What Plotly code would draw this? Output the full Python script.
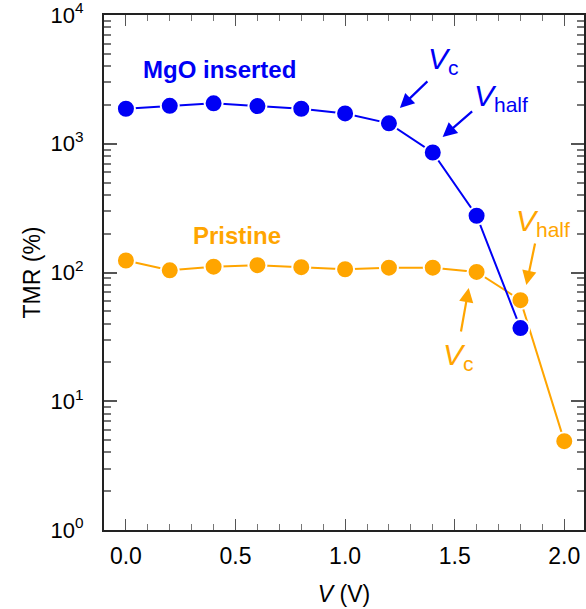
import plotly.graph_objects as go

voltage = [0.0, 0.2, 0.4, 0.6, 0.8, 1.0, 1.2, 1.4, 1.6, 1.8, 2.0]
mgo_V = [0.0, 0.2, 0.4, 0.6, 0.8, 1.0, 1.2, 1.4, 1.6, 1.8]
mgo_tmr = [1870, 1970, 2060, 1960, 1870, 1720, 1440, 855, 276, 37]
pristine_tmr = [124, 104, 111, 114, 110, 106, 109, 109, 101, 61, 4.9]

y_tickvals = [1, 10, 100, 1000, 10000]
y_ticktext = ["10<sup>0</sup>", "10<sup>1</sup>", "10<sup>2</sup>", "10<sup>3</sup>", "10<sup>4</sup>"]
x_tickvals = [0.0, 0.5, 1.0, 1.5, 2.0]
x_ticktext = ["0.0", "0.5", "1.0", "1.5", "2.0"]

# minor log ticks 2..9 in each decade
y_minor = [m * 10 ** d for d in range(4) for m in range(2, 10)]

BLUE = "#0000F5"
ORANGE = "#FFA500"
FONT = "Liberation Sans, Arial, sans-serif"

fig = go.Figure()
fig.add_trace(go.Scatter(
    x=voltage, y=pristine_tmr, mode="lines+markers",
    line=dict(color=ORANGE, width=2),
    marker=dict(color=ORANGE, size=18, line=dict(color="white", width=2)),
    showlegend=False))
fig.add_trace(go.Scatter(
    x=mgo_V, y=mgo_tmr, mode="lines+markers",
    line=dict(color=BLUE, width=2),
    marker=dict(color=BLUE, size=18, line=dict(color="white", width=2)),
    showlegend=False))

def txt(x, ly, text, color, size=20, bold=False):
    fig.add_annotation(x=x, y=ly, xref="x", yref="y", text=("<b>%s</b>" % text) if bold else text,
                       showarrow=False, font=dict(color=color, size=size, family=FONT))

def arrow(x, ly, ax, ay, color):
    fig.add_annotation(x=x, y=ly, xref="x", yref="y", text="", showarrow=True,
                       ax=ax, ay=ay, arrowhead=2, arrowsize=1.3, arrowwidth=2.2,
                       arrowcolor=color, standoff=0)

txt(0.427, 3.573, "MgO inserted", BLUE, 24, True)
txt(0.509, 2.29, "Pristine", ORANGE, 24, True)
txt(1.45, 3.65, "<i>V</i><sub>c</sub>", BLUE, 30)
txt(1.71, 3.36, "<i>V</i><sub>half</sub>", BLUE, 30)
txt(1.905, 2.39, "<i>V</i><sub>half</sub>", ORANGE, 30)
txt(1.518, 1.344, "<i>V</i><sub>c</sub>", ORANGE, 30)
arrow(1.25, 3.278, 29, -28, BLUE)
arrow(1.445, 3.052, 31, -27, BLUE)
arrow(1.827, 1.903, 9, -43, ORANGE)
arrow(1.564, 1.88, -8, 45, ORANGE)

fig.update_layout(
    width=586, height=609,
    margin=dict(l=104, r=2, t=15, b=79, autoexpand=False),
    plot_bgcolor="white", paper_bgcolor="white",
    font=dict(family=FONT, color="black"),
)
fig.update_xaxes(
    range=[-0.1, 2.09], tickvals=x_tickvals, ticktext=x_ticktext,
    ticks="inside", ticklen=11, tickwidth=1.2, tickcolor="#555",
    minor=dict(dtick=0.1, ticks="inside", ticklen=6, tickwidth=1.2, tickcolor="#777", showgrid=False),
    showline=True, linecolor="#222", linewidth=2, mirror="allticks",
    showgrid=False, zeroline=False, automargin=False,
    tickfont=dict(size=23), ticklabelstandoff=4,
    title=dict(text="<i>V</i> (V)", font=dict(size=23), standoff=18),
)
fig.update_yaxes(
    type="log", range=[0, 4], tickmode="array", tickvals=y_tickvals, ticktext=y_ticktext,
    ticks="inside", ticklen=13, tickwidth=2, tickcolor="#555",
    minor=dict(tickmode="array", tickvals=y_minor, ticks="inside", ticklen=7, tickwidth=1.5,
               tickcolor="#777", showgrid=False),
    showline=True, linecolor="#222", linewidth=2, mirror="allticks",
    showgrid=False, zeroline=False, automargin=False, ticklabeloverflow="allow",
    tickfont=dict(size=22), ticklabelstandoff=14,
    title=dict(text="TMR (%)", font=dict(size=23), standoff=4),
)

fig.write_html("out.html")
